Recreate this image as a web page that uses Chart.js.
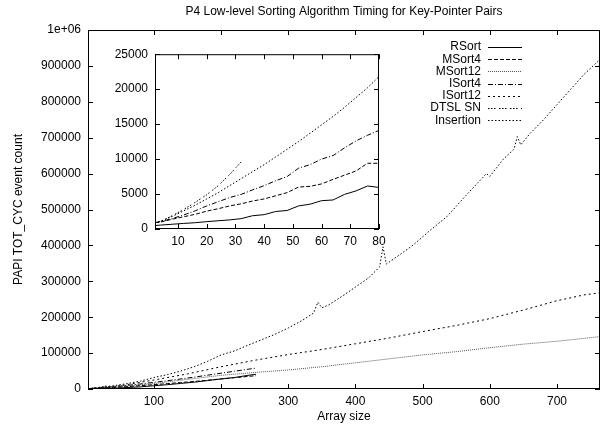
<!DOCTYPE html>
<html>
<head>
<meta charset="utf-8">
<script src="https://cdn.jsdelivr.net/npm/chart.js@4.4.0/dist/chart.umd.min.js"></script>
<style>
  html, body { margin: 0; padding: 0; background: #fff; }
  #wrap { position: relative; width: 601px; height: 427px; }
  #main { position: absolute; left: 0; top: 0; }
  #inset { position: absolute; left: 85px; top: 40px; }
</style>
</head>
<body>
<div id="wrap">
  <canvas id="main" width="601" height="427"></canvas>
  <canvas id="inset" width="310" height="220"></canvas>
</div>
<script>
// Series names (legend order)
const seriesNames = ['RSort', 'MSort4', 'MSort12', 'ISort4', 'ISort12', 'DTSL SN', 'Insertion'];

// Main plot tick values
const mainXTicks = [100, 200, 300, 400, 500, 600, 700];
const mainYTicks = [0, 100000, 200000, 300000, 400000, 500000, 600000, 700000, 800000, 900000, 1000000];

// Inset tick values
const insetXTicks = [10, 20, 30, 40, 50, 60, 70, 80];
const insetYTicks = [0, 5000, 10000, 15000, 20000, 25000];

// Inset data (array size 2..80)
const insetX = [2, 4, 8, 12, 16, 20, 24, 28, 32, 36, 40, 44, 48, 52, 56, 60, 64, 68, 72, 76, 80];
const rsortInset = [500, 560, 680, 800, 900, 1050, 1180, 1300, 1480, 1900, 2050, 2500, 2650, 3300, 3550, 4050, 4150, 4950, 5450, 6150, 5950];
const msort4Inset = [900, 1000, 1400, 1750, 2100, 2550, 2900, 3300, 3600, 4000, 4300, 4750, 5200, 6000, 6100, 6450, 7100, 7700, 8300, 9400, 9400];
const isort4Inset = [900, 1050, 1500, 2000, 2600, 3300, 3900, 4500, 4950, 5600, 6200, 6900, 7500, 8700, 9200, 10000, 10500, 11600, 12600, 13400, 14100];
const insertionInset = [900, 1100, 1800, 2600, 3400, 4300, 5200, 6200, 7200, 8200, 9200, 10300, 11400, 12500, 13700, 14900, 16100, 17400, 18800, 20200, 21800];
const dtslX = [2, 4, 8, 12, 16, 20, 24, 28, 32];
const dtslVals = [900, 1100, 1900, 2800, 3800, 4900, 6200, 7800, 9600];

// Main data: series that stop near 250
const shortX = [2, 20, 40, 60, 80, 100, 120, 140, 160, 180, 200, 220, 240, 252];
const rsortMain = [500, 1050, 2050, 4050, 5950, 9000, 12000, 15500, 19000, 23500, 28000, 32000, 38000, 41000];
const msort4Main = [900, 2550, 4300, 6450, 9400, 12000, 15000, 18000, 21000, 24500, 28000, 31500, 35000, 37000];
const isort4Main = [900, 3300, 6200, 10000, 14100, 18500, 23000, 28000, 33000, 38500, 44000, 49500, 55000, 58000];

// Main data: series that run to 764
const longX = [2, 50, 100, 150, 200, 250, 300, 350, 400, 450, 500, 550, 600, 650, 700, 740, 764];
const msort12Main = [800, 7000, 15000, 27000, 38000, 46000, 53000, 62000, 73000, 84000, 95000, 104000, 115000, 125000, 133000, 141000, 146000];
const isort12Main = [900, 9000, 25000, 42000, 62000, 80000, 96000, 110000, 126000, 142000, 160000, 177000, 196000, 220000, 246000, 262000, 268000];

const insertionX = [2, 20, 40, 60, 80, 100, 120, 140, 160, 180, 200, 220, 240, 260, 280, 300, 320, 338, 344, 350, 360, 380, 400, 420, 436, 441, 446, 466, 486, 510, 536, 565, 595, 600, 620, 636, 641, 646, 660, 680, 700, 720, 740, 764];
const insertionMain = [900, 4300, 9200, 14900, 21800, 32000, 40000, 50000, 62000, 77000, 95000, 106000, 122000, 137000, 152000, 170000, 190000, 212000, 242000, 226000, 234000, 258000, 284000, 310000, 340000, 396000, 348000, 374000, 401000, 440000, 480000, 540000, 600000, 592000, 640000, 668000, 703000, 680000, 712000, 750000, 792000, 834000, 876000, 918000];

// line styles per series
const dashes = {
  'RSort': [],
  'MSort4': [4, 2],
  'MSort12': [1, 1],
  'ISort4': [5, 2, 1, 2],
  'ISort12': [2, 3],
  'DTSL SN': [1.5, 1.5, 1.5, 1.5, 1.5, 3.5],
  'Insertion': [1.5, 2]
};
const colors = {
  'RSort': '#000', 'MSort4': '#000', 'MSort12': '#555', 'ISort4': '#000',
  'ISort12': '#000', 'DTSL SN': '#000', 'Insertion': '#000'
};

const FONT = "'Liberation Sans', Arial, Helvetica, sans-serif";

function pts(xs, ys) {
  return xs.map((x, i) => ({ x: x, y: ys[i] }));
}

function ds(name, data) {
  return {
    label: name,
    data: data,
    borderColor: colors[name],
    borderWidth: 1,
    borderDash: dashes[name],
    pointRadius: 0,
    tension: 0,
    fill: false
  };
}

// border box + gnuplot style inward ticks on all four sides
function framePlugin(xTicks, yTicks, tickLen, extra) {
  return {
    id: 'frame',
    afterDraw(chart) {
      const ctx = chart.ctx;
      const a = chart.chartArea;
      const sx = chart.scales.x, sy = chart.scales.y;
      ctx.save();
      ctx.strokeStyle = '#000';
      ctx.lineWidth = 1;
      ctx.setLineDash([]);
      ctx.beginPath();
      xTicks.forEach(v => {
        const px = Math.round(sx.getPixelForValue(v)) + 0.5;
        ctx.moveTo(px, a.bottom); ctx.lineTo(px, a.bottom - tickLen);
        ctx.moveTo(px, a.top); ctx.lineTo(px, a.top + tickLen);
      });
      yTicks.forEach(v => {
        const py = Math.round(sy.getPixelForValue(v)) + 0.5;
        ctx.moveTo(a.left, py); ctx.lineTo(a.left + tickLen, py);
        ctx.moveTo(a.right, py); ctx.lineTo(a.right - tickLen, py);
      });
      ctx.stroke();
      ctx.strokeRect(a.left + 0.5, a.top + 0.5, a.right - a.left - 1, a.bottom - a.top - 1);
      if (extra) extra(chart, ctx, a);
      ctx.restore();
    }
  };
}

function drawMainText(chart, ctx, a) {
  ctx.fillStyle = '#000';
  ctx.font = '12px ' + FONT;
  ctx.textAlign = 'center';
  ctx.textBaseline = 'middle';
  ctx.fillText('P4 Low-level Sorting Algorithm Timing for Key-Pointer Pairs', (a.left + a.right) / 2, 12);
  ctx.fillText('Array size', (a.left + a.right) / 2, 417);
  ctx.save();
  ctx.translate(19, (a.top + a.bottom) / 2);
  ctx.rotate(-Math.PI / 2);
  ctx.fillText('PAPI TOT_CYC event count', 0, 0);
  ctx.restore();

  // legend: right-aligned label, line sample on the right
  ctx.textAlign = 'right';
  seriesNames.forEach((name, i) => {
    const y = 47 + i * 12.2;
    ctx.fillStyle = '#000';
    ctx.fillText(name, 481, y);
    ctx.strokeStyle = colors[name];
    ctx.setLineDash(dashes[name]);
    ctx.beginPath();
    ctx.moveTo(488, Math.round(y) + 0.5);
    ctx.lineTo(522, Math.round(y) + 0.5);
    ctx.stroke();
  });
  ctx.setLineDash([]);
}

function fixedTicks(values) {
  return function (scale) {
    scale.ticks = values.map(v => ({ value: v }));
  };
}

function axes(xMin, xMax, yMin, yMax, xTicks, yTicks, yWidth, xHeight, labelFmt, xPad, yPad) {
  const tickFont = { family: FONT, size: 12 };
  return {
    x: {
      type: 'linear', min: xMin, max: xMax,
      grid: { display: false, drawTicks: false },
      border: { display: false },
      afterBuildTicks: fixedTicks(xTicks),
      afterFit: s => { s.height = xHeight; },
      ticks: { color: '#000', font: tickFont, padding: xPad, maxRotation: 0, autoSkip: false,
               callback: v => String(v) }
    },
    y: {
      type: 'linear', min: yMin, max: yMax,
      grid: { display: false, drawTicks: false },
      border: { display: false },
      afterBuildTicks: fixedTicks(yTicks),
      afterFit: s => { s.width = yWidth; },
      ticks: { color: '#000', font: tickFont, padding: yPad, autoSkip: false, callback: labelFmt }
    }
  };
}

Chart.defaults.font.family = FONT;

// MAIN CHART
new Chart(document.getElementById('main'), {
  type: 'line',
  data: {
    datasets: [
      ds('RSort', pts(shortX, rsortMain)),
      ds('MSort4', pts(shortX, msort4Main)),
      ds('MSort12', pts(longX, msort12Main)),
      ds('ISort4', pts(shortX, isort4Main)),
      ds('ISort12', pts(longX, isort12Main)),
      ds('DTSL SN', pts(dtslX, dtslVals)),
      ds('Insertion', pts(insertionX, insertionMain))
    ]
  },
  options: {
    responsive: false,
    animation: false,
    devicePixelRatio: 1,
    layout: { padding: { top: 30, right: 1, left: 0, bottom: 0 } },
    plugins: { legend: { display: false }, tooltip: { enabled: false }, title: { display: false } },
    scales: axes(2, 764, 0, 1000000, mainXTicks, mainYTicks, 88, 38,
      v => (v === 1000000 ? '1e+06' : String(v)), 5, 7)
  },
  plugins: [framePlugin(mainXTicks, mainYTicks, 5, drawMainText)]
});

// INSET CHART
new Chart(document.getElementById('inset'), {
  type: 'line',
  data: {
    datasets: [
      ds('RSort', pts(insetX, rsortInset)),
      ds('MSort4', pts(insetX, msort4Inset)),
      ds('ISort4', pts(insetX, isort4Inset)),
      ds('DTSL SN', pts(dtslX, dtslVals)),
      ds('Insertion', pts(insetX, insertionInset))
    ]
  },
  options: {
    responsive: false,
    animation: false,
    devicePixelRatio: 1,
    layout: { padding: { top: 13, right: 16, left: 0, bottom: 0 } },
    plugins: { legend: { display: false }, tooltip: { enabled: false }, title: { display: false } },
    scales: axes(2, 80, 0, 25000, insetXTicks, insetYTicks, 70, 31, v => String(v), 5, 7)
  },
  plugins: [framePlugin(insetXTicks, insetYTicks, 5)]
});
</script>
</body>
</html>
